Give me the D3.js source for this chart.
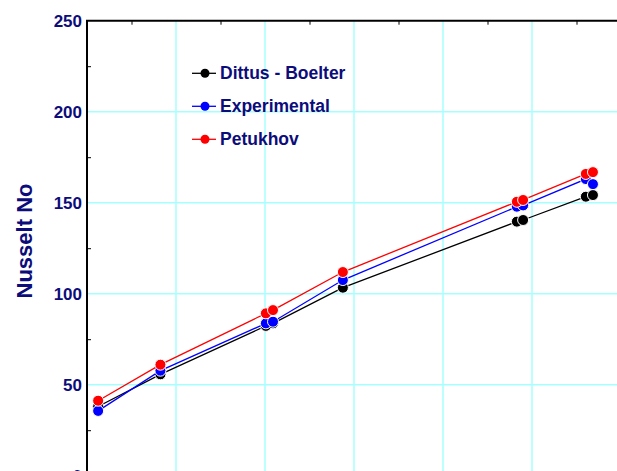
<!DOCTYPE html>
<html>
<head>
<meta charset="utf-8">
<script src="https://cdn.jsdelivr.net/npm/d3@7"></script>
<style>
  body { margin: 0; background: #fff; }
  svg { display: block; font-family: "Liberation Sans", Arial, sans-serif; }
</style>
</head>
<body>
<div id="chart"></div>
<script>
// ----------------------
// Data (x axis is cropped off in the original, x values are estimated)
// ----------------------
const reynolds = [4250, 5650, 8020, 8180, 9750, 13660, 13800, 15210, 15370];
const dittusBoelter = [38, 55.7, 82.3, 83.7, 103.3, 139.6, 140.5, 153.3, 154.2];
const experimental = [35.6, 57.7, 83.7, 84.6, 107.5, 147.8, 148.5, 163, 160.2];
const petukhov = [41.2, 61, 89.2, 91, 111.9, 150.5, 151.5, 165.8, 166.8];

const seriesNames = ["Dittus - Boelter", "Experimental", "Petukhov"];
const seriesColors = ["#000000", "#0000ff", "#ff0000"];
const yTicks = [0, 50, 100, 150, 200, 250];

const series = [dittusBoelter, experimental, petukhov].map((vals, i) => ({
    name: seriesNames[i],
    color: seriesColors[i],
    points: vals.map((v, j) => ({ x: reynolds[j], y: v }))
}));

// Dimensions
const width = 617;
const height = 471;
const marginLeft = 87, marginTop = 20.7;

const svg = d3.select("#chart")
    .append("svg")
    .attr("width", width)
    .attr("height", height)
    .style("overflow", "hidden");

// Scales
const x = d3.scaleLinear().domain([4000, 16000]).range([marginLeft, marginLeft + 6 * 89]);
const y = d3.scaleLinear().domain([0, 250]).range([475.7, marginTop]);

const gridColor = "#a6ffff";
const navy = "#0c0c7a";

// Grid lines
svg.append("g")
    .selectAll("line")
    .data(d3.range(6000, 16001, 2000))
    .enter().append("line")
    .attr("x1", d => x(d)).attr("x2", d => x(d))
    .attr("y1", marginTop).attr("y2", y(0))
    .attr("stroke", gridColor).attr("stroke-width", 1.5);

svg.append("g")
    .selectAll("line")
    .data(yTicks.filter(d => d > 0 && d < 250))
    .enter().append("line")
    .attr("x1", marginLeft).attr("x2", x(16000))
    .attr("y1", d => y(d)).attr("y2", d => y(d))
    .attr("stroke", gridColor).attr("stroke-width", 1.5);

// Axes (ticks point inward)
const yAxis = d3.axisRight(y).tickValues(d3.range(25, 250, 50)).tickSize(4).tickFormat("");
svg.append("g")
    .attr("transform", `translate(${marginLeft},0)`)
    .call(yAxis)
    .call(g => g.select(".domain").remove())
    .selectAll("line").attr("stroke", "#000");

const topAxis = d3.axisBottom(x).tickValues(d3.range(5000, 16000, 2000)).tickSize(4).tickFormat("");
svg.append("g")
    .attr("transform", `translate(0,${marginTop})`)
    .call(topAxis)
    .call(g => g.select(".domain").remove())
    .selectAll("line").attr("stroke", "#000");

// Frame lines
svg.append("line")
    .attr("x1", marginLeft).attr("x2", marginLeft)
    .attr("y1", marginTop).attr("y2", y(0))
    .attr("stroke", "#000").attr("stroke-width", 2);
svg.append("line")
    .attr("x1", marginLeft - 1).attr("x2", x(16000))
    .attr("y1", marginTop).attr("y2", marginTop)
    .attr("stroke", "#000").attr("stroke-width", 2);

// Y tick labels
svg.append("g")
    .selectAll("text")
    .data(yTicks)
    .enter().append("text")
    .attr("x", marginLeft - 5)
    .attr("y", d => y(d) + 6)
    .attr("text-anchor", "end")
    .attr("font-size", 17)
    .attr("font-weight", "bold")
    .attr("fill", navy)
    .text(d => d);

// Y axis title
svg.append("text")
    .attr("transform", `translate(32,241) rotate(-90)`)
    .attr("text-anchor", "middle")
    .attr("font-size", 22)
    .attr("font-weight", "bold")
    .attr("fill", navy)
    .text("Nusselt No");

// Lines and markers
const line = d3.line().x(d => x(d.x)).y(d => y(d.y));

series.forEach(s => {
    const g = svg.append("g");
    g.append("path")
        .datum(s.points)
        .attr("d", line)
        .attr("fill", "none")
        .attr("stroke", s.color)
        .attr("stroke-width", 1.3);
    g.selectAll("circle")
        .data(s.points)
        .enter().append("circle")
        .attr("cx", d => x(d.x))
        .attr("cy", d => y(d.y))
        .attr("r", 5.5)
        .attr("fill", s.color)
        .attr("stroke", "#fff")
        .attr("stroke-width", 1);
});

// Legend
const legend = svg.append("g")
    .selectAll("g")
    .data(series)
    .enter().append("g")
    .attr("transform", (d, i) => `translate(192,${73.3 + i * 33})`);

legend.append("line")
    .attr("x1", 0).attr("x2", 24)
    .attr("stroke", d => d.color)
    .attr("stroke-width", 1.3);
legend.append("circle")
    .attr("cx", 13).attr("r", 4.5)
    .attr("fill", d => d.color);
legend.append("text")
    .attr("x", 28).attr("y", 6)
    .attr("font-size", 17.5)
    .attr("font-weight", "bold")
    .attr("fill", navy)
    .text(d => d.name);
</script>
</body>
</html>
